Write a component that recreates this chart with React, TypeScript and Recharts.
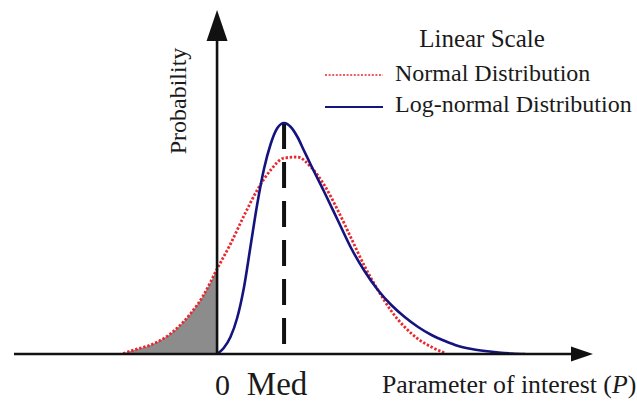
import React from 'react';
import { ComposedChart, Line, Area, XAxis, YAxis, ReferenceLine } from 'recharts';

// 横軸の位置（0 = 縦軸, 1 = Med）
const normalX = [-1.4, -1.2, -1.0, -0.8, -0.6, -0.4, -0.2, 0, 0.2, 0.4, 0.6, 0.8, 1.0, 1.2, 1.4, 1.6, 1.8, 2.0, 2.2, 2.4, 2.6, 2.8, 3.0, 3.2, 3.4];
const normalY = [0.5, 4.8, 8.8, 15.4, 25.6, 40, 59, 85, 110, 138, 164, 184, 196, 197, 187, 169, 144, 116, 88, 64, 43, 27, 15, 7, 1];

const lognormX = [0, 0.1, 0.2, 0.3, 0.4, 0.5, 0.6, 0.7, 0.8, 0.9, 1.0, 1.1, 1.2, 1.3, 1.4, 1.6, 1.8, 2.0, 2.2, 2.4, 2.6, 2.8, 3.0, 3.2, 3.4, 3.6, 3.8, 4.0, 4.2, 4.4, 4.6];
const lognormY = [0, 6, 17, 36, 66, 108, 150, 185, 210, 226, 231, 227, 217, 203, 189, 162, 134, 106, 83, 64, 49, 37, 27, 19, 13, 8, 5, 3, 1.5, 0.5, 0];

const tickValues = [0, 1];
const tickLabels = ['0', 'Med'];
const medianX = 1;
const peakY = 231;

const xDomain: [number, number] = [-3.03, 5.61];
const yDomain: [number, number] = [0, 344];

const RED = '#e8282e';
const BLUE = '#14147e';
const INK = '#1a1a1a';
const serif = { fontFamily: '"Liberation Serif", "Times New Roman", serif' };

const normalData = normalX.map((x, i) => ({ x, normal: normalY[i] }));
const lognormData = lognormX.map((x, i) => ({ x, lognormal: lognormY[i] }));
const shadeData = normalData.filter((d) => d.x <= 0).map((d) => ({ x: d.x, shade: d.normal }));

// 矢印付きの軸線
const xArrow = (props: any) => {
    const { x1, y1, x2 } = props;
    return (
        <g>
            <line x1={x1} y1={y1} x2={x2 - 18} y2={y1} stroke="#111" strokeWidth={2.6} />
            <polygon points={`${x2},${y1} ${x2 - 22},${y1 - 7.5} ${x2 - 22},${y1 + 7.5}`} fill="#111" />
        </g>
    );
};

const yArrow = (props: any) => {
    const { x1, y1, y2 } = props;
    return (
        <g>
            <line x1={x1} y1={y1} x2={x1} y2={y2 + 26} stroke="#111" strokeWidth={2.6} />
            <polygon points={`${x1},${y2} ${x1 - 10.5},${y2 + 31} ${x1 + 10.5},${y2 + 31}`} fill="#111" />
        </g>
    );
};

const renderTick = (props: any) => {
    const { x, payload } = props;
    const idx = tickValues.indexOf(payload.value);
    const label = tickLabels[idx];
    const dx = idx === 0 ? 5.5 : -7;
    return (
        <text x={x + dx} y={395} textAnchor="middle" style={serif} fontSize={idx === 0 ? 30 : 33} fill={INK}>
            {label}
        </text>
    );
};

const App: React.FC = () => {
    return (
        <div style={{ position: 'absolute', left: 0, top: 0, width: 637, height: 401 }}>
            <ComposedChart width={637} height={401} margin={{ top: 10, right: 44, bottom: 7, left: 14 }}>
                <XAxis
                    type="number"
                    dataKey="x"
                    domain={xDomain}
                    allowDataOverflow
                    ticks={tickValues}
                    tick={renderTick}
                    tickLine={false}
                    axisLine={false}
                    height={40}
                />
                <YAxis type="number" domain={yDomain} allowDataOverflow hide />
                <Area
                    data={shadeData}
                    dataKey="shade"
                    type="monotone"
                    stroke="none"
                    fill="#8c8c8c"
                    fillOpacity={1}
                    isAnimationActive={false}
                />
                <ReferenceLine
                    segment={[{ x: medianX, y: peakY }, { x: medianX, y: 0 }]}
                    stroke="#111"
                    strokeWidth={4}
                    strokeDasharray="26 13"
                    ifOverflow="visible"
                />
                <Line
                    data={normalData}
                    dataKey="normal"
                    type="monotone"
                    stroke={RED}
                    strokeWidth={2.8}
                    strokeDasharray="2.4 1.8"
                    dot={false}
                    isAnimationActive={false}
                />
                <Line
                    data={lognormData}
                    dataKey="lognormal"
                    type="monotone"
                    stroke={BLUE}
                    strokeWidth={2.6}
                    dot={false}
                    isAnimationActive={false}
                />
                <ReferenceLine
                    segment={[{ x: xDomain[0], y: 0 }, { x: xDomain[1], y: 0 }]}
                    shape={xArrow}
                    ifOverflow="visible"
                />
                <ReferenceLine
                    segment={[{ x: 0, y: 0 }, { x: 0, y: yDomain[1] }]}
                    shape={yArrow}
                    ifOverflow="visible"
                />
            </ComposedChart>
            <svg width={637} height={401} style={{ position: 'absolute', left: 0, top: 0, pointerEvents: 'none' }}>
                <text x={186} y={101} transform="rotate(-90, 186, 101)" textAnchor="middle" style={serif} fontSize={24} fill={INK}>
                    Probability
                </text>
                <text x={482} y={47} textAnchor="middle" style={serif} fontSize={25} fill={INK}>
                    Linear Scale
                </text>
                <line x1={325} y1={75} x2={383} y2={75} stroke={RED} strokeWidth={1.6} strokeDasharray="2 1.6" />
                <text x={395} y={81} style={serif} fontSize={24} fill={INK}>
                    Normal Distribution
                </text>
                <line x1={325} y1={107} x2={383} y2={107} stroke={BLUE} strokeWidth={2} />
                <text x={395} y={112} style={serif} fontSize={24} fill={INK}>
                    Log-normal Distribution
                </text>
                <text x={382} y={393} style={serif} fontSize={25.8} fill={INK}>
                    Parameter of interest (<tspan fontStyle="italic">P</tspan>)
                </text>
            </svg>
        </div>
    );
};

export default App;
